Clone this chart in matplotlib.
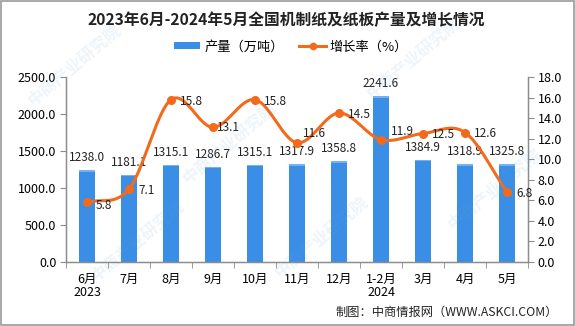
import numpy as np
import matplotlib.pyplot as plt
from matplotlib.patches import Patch, Rectangle
from matplotlib.lines import Line2D

plt.rcParams['font.family'] = ['Noto Sans CJK SC', 'DejaVu Sans']

months = ['6月\n2023', '7月', '8月', '9月', '10月', '11月', '12月', '1-2月\n2024', '3月', '4月', '5月']
output = [1238.0, 1181.1, 1315.1, 1286.7, 1315.1, 1317.9, 1358.8, 2241.6, 1384.9, 1318.9, 1325.8]
growth = [5.8, 7.1, 15.8, 13.1, 15.8, 11.6, 14.5, 11.9, 12.5, 12.6, 6.8]

bar_c = '#3a8ee6'
line_c = '#f26b1d'
axis_c = '#8c8c8c'

# label nudges (points) for the growth labels that sit above the curve
lbl_off = {0: (6.5, -2.5), 3: (3, 0), 5: (4, 7), 7: (7, 6)}


def catmull_rom(xs, ys, n=20):
    # smooth curve through the points
    xs = np.asarray(xs, float)
    ys = np.asarray(ys, float)
    px = np.concatenate([[2*xs[0]-xs[1]], xs, [2*xs[-1]-xs[-2]]])
    py = np.concatenate([[2*ys[0]-ys[1]], ys, [2*ys[-1]-ys[-2]]])
    ox, oy = [], []
    t = np.linspace(0, 1, n, endpoint=False)
    for i in range(1, len(px)-2):
        for p, o in ((px, ox), (py, oy)):
            p0, p1, p2, p3 = p[i-1], p[i], p[i+1], p[i+2]
            o.extend(0.5*((2*p1) + (-p0+p2)*t + (2*p0-5*p1+4*p2-p3)*t**2 + (-p0+3*p1-3*p2+p3)*t**3))
    ox.append(xs[-1]); oy.append(ys[-1])
    return np.array(ox), np.array(oy)


fig = plt.figure(figsize=(5.75, 3.26), dpi=100)

# faint watermark
for wx, wy in [(0.13, 0.80), (0.40, 0.56), (0.72, 0.82), (0.24, 0.26), (0.56, 0.27), (0.86, 0.42)]:
    fig.text(wx, wy, '中商产业研究院', rotation=40, fontsize=12, color='#6aa6d8', alpha=0.12,
             ha='center', va='center', fontweight='bold', zorder=0)

ax = fig.add_axes([0.1148, 0.1963, 0.8035, 0.5675])
ax2 = ax.twinx()
ax.patch.set_alpha(0)

x = np.arange(len(months))
ax.bar(x, output, width=0.38, color=bar_c, zorder=2)
for xi, v in zip(x, output):
    ax.add_patch(Rectangle((xi-0.19, v-22), 0.38, 22, color='#74b3f2', lw=0, zorder=3))
    ax.annotate('%.1f' % v, (xi, v), xytext=(0, 9), textcoords='offset points',
                ha='center', va='center', fontsize=8.5, color='#222222')

sx, sy = catmull_rom(x, growth)
ax2.plot(sx, sy, color=line_c, lw=2.2, zorder=4)
ax2.plot(x, growth, 'o', color=line_c, ms=5.5, zorder=5)
for i, (xi, v) in enumerate(zip(x, growth)):
    dx, dy = lbl_off.get(i, (6.5, -1))
    ax2.annotate('%.1f' % v, (xi, v), xytext=(dx, dy), textcoords='offset points',
                 ha='left', va='center', fontsize=8.5, color='#222222', zorder=6)

ax.set_xlim(-0.5, len(months)-0.5)
ax.set_ylim(0, 2500)
ax2.set_ylim(0, 18)
ax.set_yticks(np.arange(0, 2501, 500))
ax.set_yticklabels(['%.1f' % v for v in np.arange(0, 2501, 500)])
ax2.set_yticks(np.arange(0, 18.1, 2))
ax2.set_yticklabels(['%.1f' % v for v in np.arange(0, 18.1, 2)])
ax.set_xticks(x)
ax.set_xticklabels(months, fontsize=9, linespacing=0.95)
ax.set_xticks(np.arange(-0.5, len(months), 1), minor=True)
ax.tick_params(axis='x', which='major', length=0, pad=8)
ax.tick_params(axis='x', which='minor', length=4, color=axis_c)
ax.tick_params(axis='y', labelsize=9, length=4, color=axis_c, pad=3)
ax2.tick_params(axis='y', labelsize=9, length=4, color=axis_c, pad=3)

for a in (ax, ax2):
    a.spines['top'].set_visible(False)
    for s in ('left', 'right', 'bottom'):
        a.spines[s].set_color(axis_c)
        a.spines[s].set_linewidth(0.9)

fig.text(0.498, 0.938, '2023年6月-2024年5月全国机制纸及纸板产量及增长情况', ha='center', va='center',
         fontsize=11.3, fontweight='bold', color='#222222')

handles = [Patch(facecolor=bar_c, edgecolor='none'),
           Line2D([0], [0], color=line_c, lw=2.2, marker='o', ms=4.5)]
fig.legend(handles, ['产量（万吨）', '增长率（%）'], loc='center', bbox_to_anchor=(0.506, 0.856),
           ncol=2, frameon=False, fontsize=9.5, handlelength=2.0, handleheight=0.45,
           columnspacing=1.2, handletextpad=0.3)

fig.text(0.97, 0.042, '制图：中商情报网（WWW.ASKCI.COM）', ha='right', va='center', fontsize=8.8, color='#222222')

fig.patches.append(Rectangle((0.002, 0.003), 0.996, 0.994, transform=fig.transFigure,
                             fill=False, edgecolor='#9a9a9a', lw=1.2))

fig.savefig('out.png', dpi=100)
